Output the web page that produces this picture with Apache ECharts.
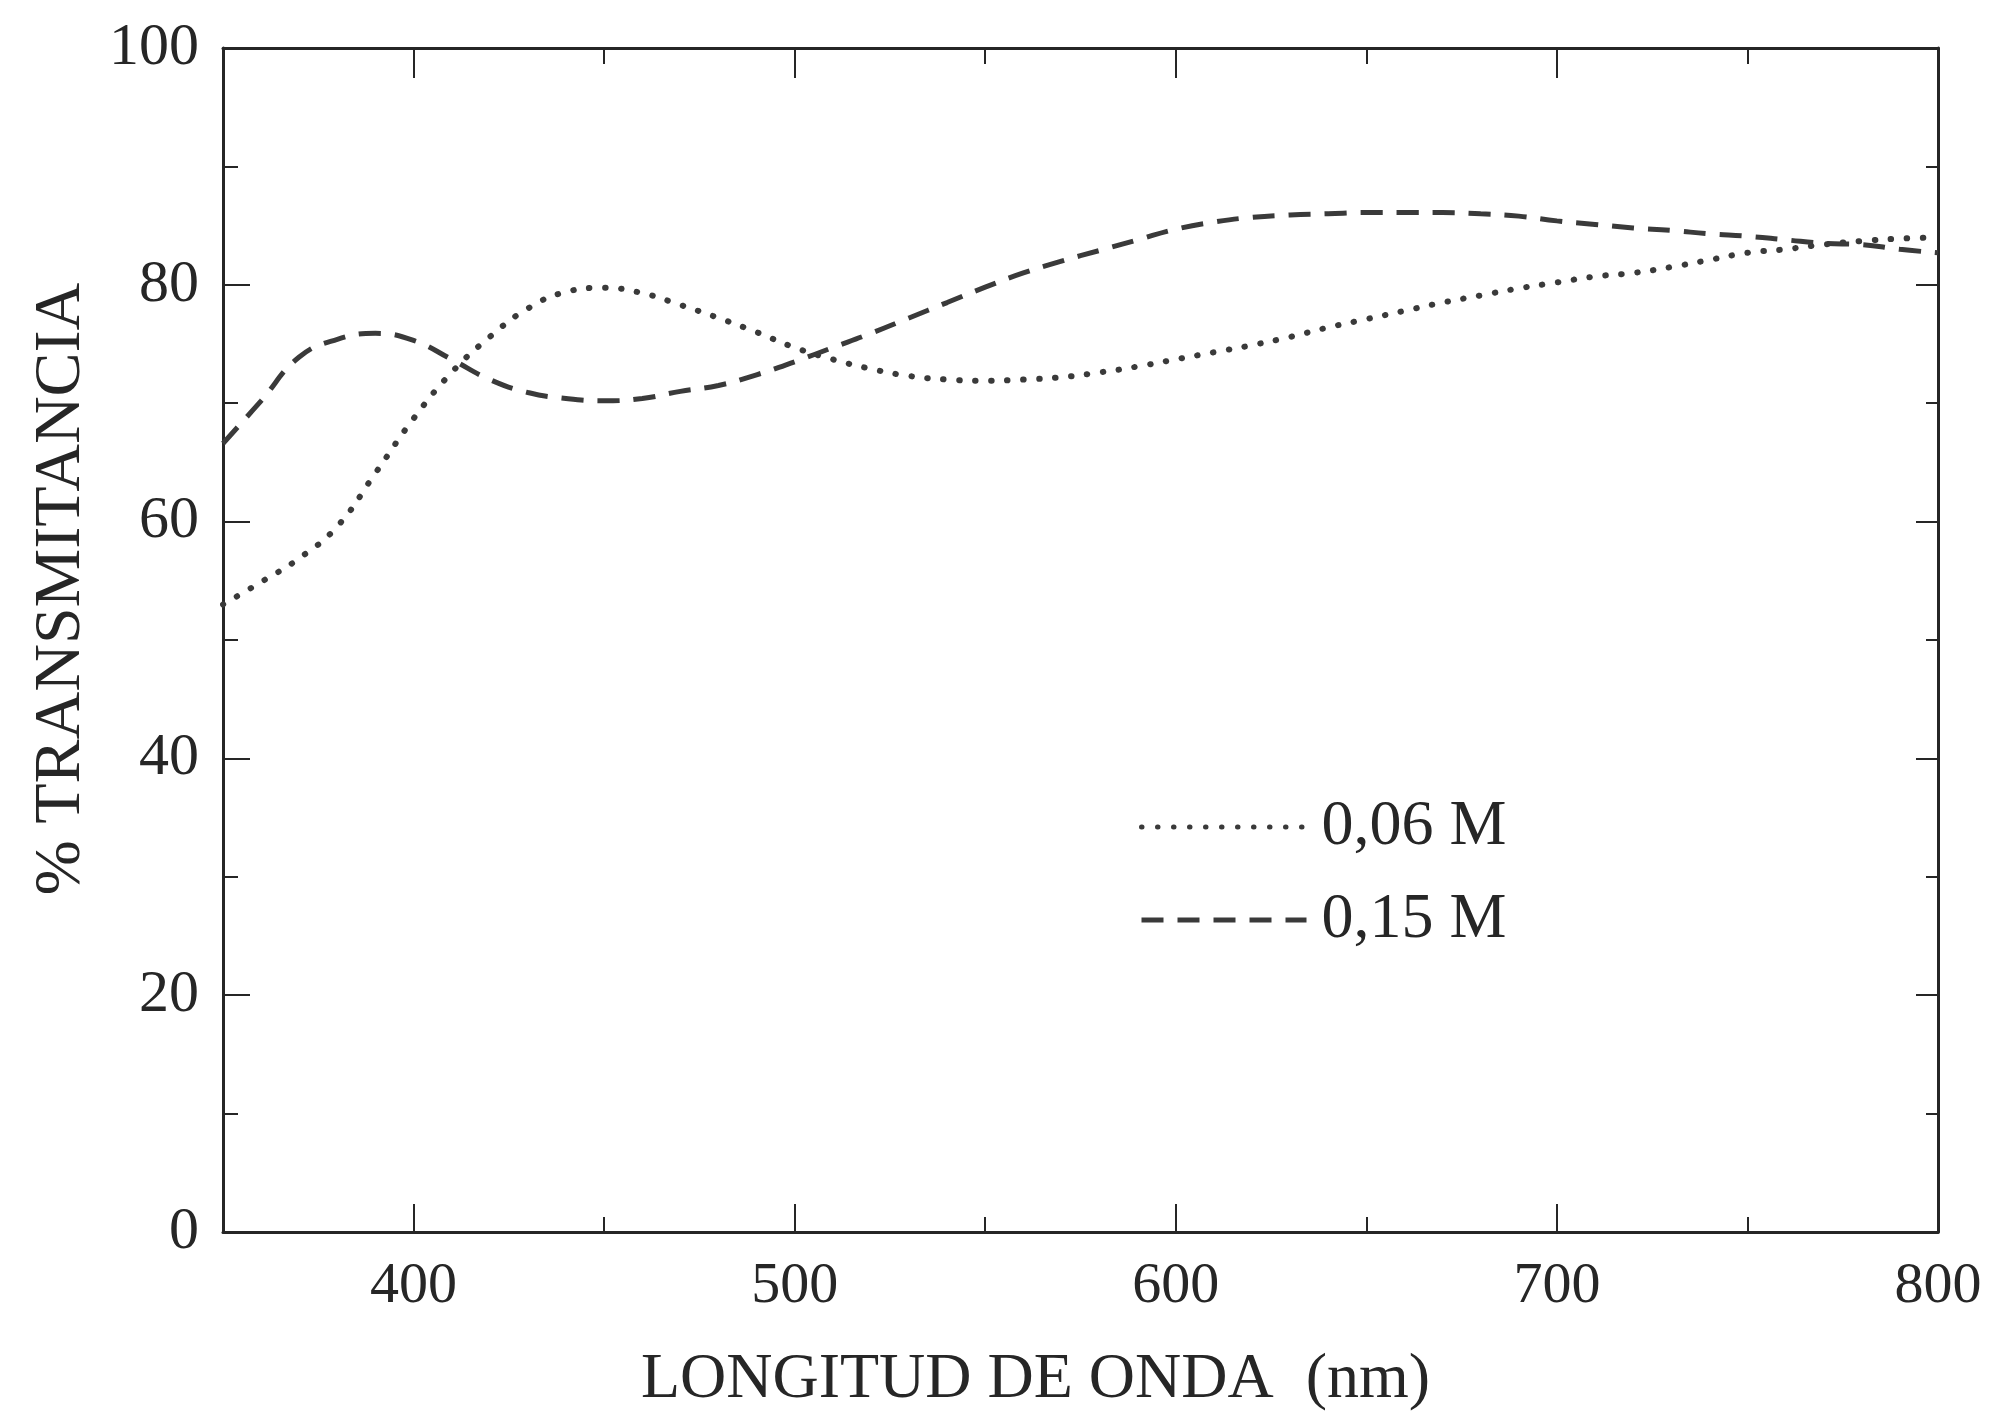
<!DOCTYPE html>
<html>
<head>
<meta charset="utf-8">
<title>% Transmitancia</title>
<script src="https://cdn.jsdelivr.net/npm/echarts@6/dist/echarts.min.js"></script>
<style>
  html, body { margin: 0; padding: 0; background: #fff; }
  #chart { width: 2006px; height: 1412px; }
</style>
</head>
<body>
<div id="chart"></div>
<script>
  // longitud de onda (nm)
  const wavelengths = [350, 360, 370, 380, 390, 400, 410, 420, 430, 440, 450,
    460, 470, 480, 490, 500, 510, 520, 530, 540, 550,
    560, 570, 580, 590, 600, 610, 620, 630, 640, 650,
    660, 670, 680, 690, 700, 710, 720, 730, 740, 750,
    760, 770, 780, 790, 800];
  // % transmitancia, 0,06 M (punteada)
  const trans006 = [53.0, 54.9, 56.9, 59.6, 64.1, 68.7, 72.6, 75.6, 78.0, 79.4, 79.75,
    79.3, 78.3, 77.2, 76.0, 74.7, 73.7, 72.9, 72.3, 72.0, 71.9,
    72.0, 72.2, 72.6, 73.1, 73.7, 74.3, 74.9, 75.6, 76.4, 77.1,
    77.8, 78.5, 79.1, 79.7, 80.2, 80.7, 81.0, 81.5, 82.1, 82.7,
    83.0, 83.4, 83.7, 83.9, 84.0];
  // % transmitancia, 0,15 M (discontinua)
  const trans015 = [66.6, 70.2, 73.9, 75.4, 75.9, 75.3, 73.7, 72.0, 70.9, 70.4, 70.2,
    70.4, 71.0, 71.5, 72.4, 73.5, 74.7, 75.9, 77.2, 78.5, 79.8,
    81.0, 82.0, 82.9, 83.8, 84.7, 85.3, 85.7, 85.9, 86.0, 86.1,
    86.1, 86.1, 86.0, 85.8, 85.4, 85.1, 84.8, 84.6, 84.3, 84.1,
    83.8, 83.5, 83.4, 83.0, 82.7];
  const seriesNames = ["0,06 M", "0,15 M"];
  // marcas del eje x
  const xMajorTicks = [400, 500, 600, 700, 800];
  const xMinorTicks = [450, 550, 650, 750];

  const ink = "#262626";
  const curveColor = "#3a3a3a";
  const serif = "Liberation Serif";

  const toPairs = (ys) => wavelengths.map((x, i) => [x, ys[i]]);

  // ejes x: abajo (con etiquetas) y arriba, cada uno con marcas largas y cortas
  const xBase = {
    type: "value",
    min: 350,
    max: 800,
    splitLine: { show: false },
    axisLabel: { show: false },
    axisLine: { show: false }
  };
  const xAxes = [
    Object.assign({}, xBase, {
      position: "bottom",
      name: "LONGITUD DE ONDA  (nm)",
      nameLocation: "middle",
      nameGap: 116,
      nameTextStyle: { fontFamily: serif, fontSize: 64, color: ink, padding: [0, 90, 0, 0] },
      axisLine: { show: true, lineStyle: { color: ink, width: 3 } },
      axisTick: { inside: true, length: 28, customValues: xMajorTicks, lineStyle: { color: ink, width: 2 } },
      axisLabel: { show: true, customValues: xMajorTicks, margin: 26, fontFamily: serif, fontSize: 58, color: ink }
    }),
    Object.assign({}, xBase, {
      position: "bottom",
      axisTick: { inside: true, length: 15, customValues: xMinorTicks, lineStyle: { color: ink, width: 2 } }
    }),
    Object.assign({}, xBase, {
      position: "top",
      axisLine: { show: true, lineStyle: { color: ink, width: 3 } },
      axisTick: { inside: true, length: 30, customValues: [400, 500, 600, 700], lineStyle: { color: ink, width: 2 } }
    }),
    Object.assign({}, xBase, {
      position: "top",
      axisTick: { inside: true, length: 16, customValues: xMinorTicks, lineStyle: { color: ink, width: 2 } }
    })
  ];

  const yAxes = [
    {
      type: "value",
      position: "left",
      min: 0,
      max: 100,
      interval: 20,
      name: "% TRANSMITANCIA",
      nameLocation: "middle",
      nameGap: 128,
      nameTextStyle: { fontFamily: serif, fontSize: 66, color: ink, padding: [0, 0, 0, 102] },
      splitLine: { show: false },
      axisLine: { show: true, lineStyle: { color: ink, width: 3 } },
      axisTick: { inside: true, length: 27, lineStyle: { color: ink, width: 2 } },
      minorTick: { show: true, splitNumber: 2, length: 15, lineStyle: { color: ink, width: 2 } },
      axisLabel: { margin: 24, fontFamily: serif, fontSize: 60, color: ink }
    },
    {
      type: "value",
      position: "right",
      min: 0,
      max: 100,
      interval: 20,
      splitLine: { show: false },
      axisLine: { show: true, lineStyle: { color: ink, width: 3 } },
      axisTick: { inside: true, length: 22, lineStyle: { color: ink, width: 2 } },
      minorTick: { show: true, splitNumber: 2, length: 12, lineStyle: { color: ink, width: 2 } },
      axisLabel: { show: false }
    }
  ];

  const chart = echarts.init(document.getElementById("chart"), null, { renderer: "canvas" });
  chart.setOption({
    backgroundColor: "#ffffff",
    animation: false,
    grid: { left: 223, top: 48, width: 1715, height: 1184, containLabel: false, outerBoundsMode: "none" },
    legend: {
      orient: "vertical",
      left: 1134,
      top: 790,
      itemWidth: 165,
      itemHeight: 20,
      itemGap: 29,
      data: seriesNames,
      itemStyle: { opacity: 0 },
      lineStyle: { width: 5 },
      textStyle: { fontFamily: serif, fontSize: 64, lineHeight: 64, color: ink, padding: [0, 0, 0, 10] }
    },
    xAxis: xAxes,
    yAxis: yAxes,
    series: [
      {
        name: seriesNames[0],
        type: "line",
        data: toPairs(trans006),
        smooth: 0.45,
        symbol: "none",
        lineStyle: { color: curveColor, width: 6, type: [0.5, 15.5], cap: "round" },
        itemStyle: { color: curveColor }
      },
      {
        name: seriesNames[1],
        type: "line",
        data: toPairs(trans015),
        smooth: 0.45,
        symbol: "none",
        lineStyle: { color: curveColor, width: 5, type: [22, 14], cap: "butt" },
        itemStyle: { color: curveColor }
      }
    ]
  });
</script>
</body>
</html>
